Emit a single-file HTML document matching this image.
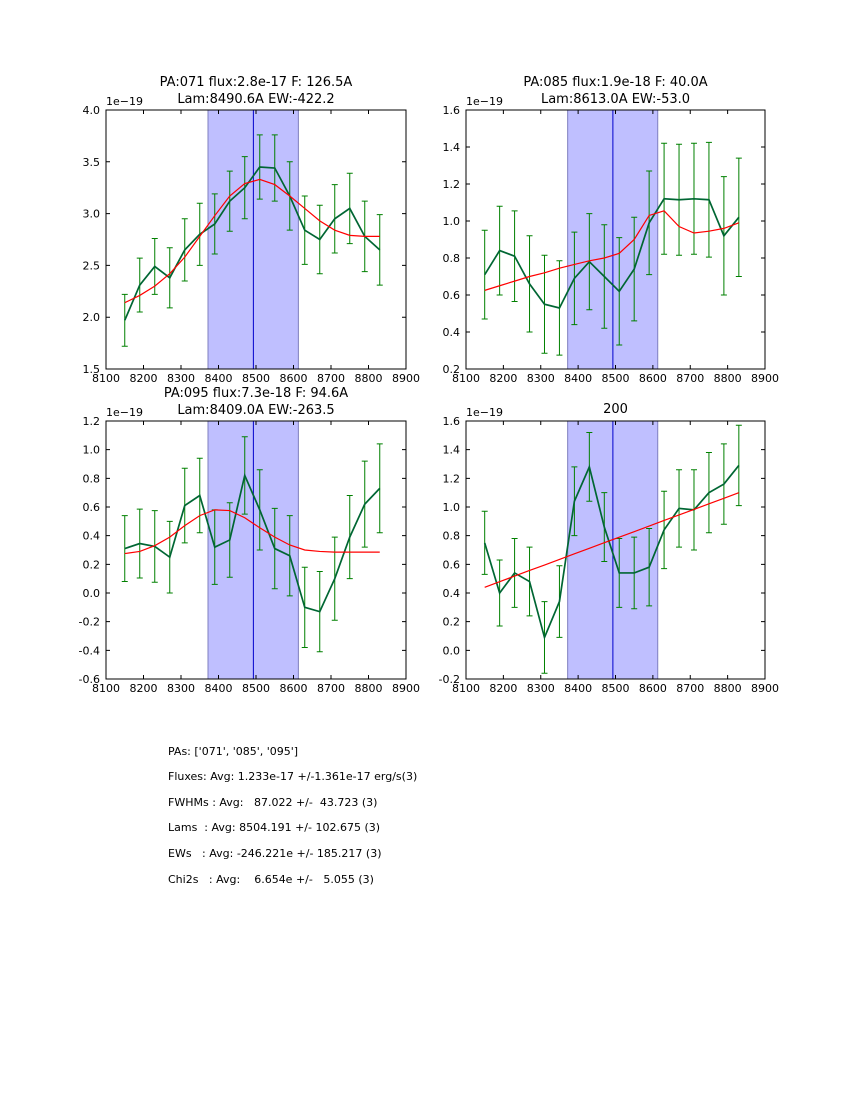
<!DOCTYPE html>
<html><head><meta charset="utf-8"><style>
body{margin:0;background:#fff;font-family:"DejaVu Sans","Liberation Sans",sans-serif}
#c{position:absolute;left:0;top:0;font-family:"DejaVu Sans","Liberation Sans",sans-serif}
.st{position:absolute;left:168px;font-size:11px;white-space:pre;color:#000}
</style></head><body>
<svg id="c" width="850" height="1100"></svg>
<div class="st" style="top:745px">PAs: ['071', '085', '095']</div>
<div class="st" style="top:770px">Fluxes: Avg: 1.233e-17 +/-1.361e-17 erg/s(3)</div>
<div class="st" style="top:796px">FWHMs : Avg:   87.022 +/-  43.723 (3)</div>
<div class="st" style="top:821px">Lams  : Avg: 8504.191 +/- 102.675 (3)</div>
<div class="st" style="top:847px">EWs   : Avg: -246.221e +/- 185.217 (3)</div>
<div class="st" style="top:873px">Chi2s   : Avg:    6.654e +/-   5.055 (3)</div>
<script>
const wavelengths=[8150,8190,8230,8270,8310,8350,8390,8430,8470,8510,8550,8590,8630,8670,8710,8750,8790,8830];
const xTicks=[8100,8200,8300,8400,8500,8600,8700,8800,8900];
const bandRange=[8372,8613];
const lineCenter=8493;
const p1Data=[1.97,2.31,2.49,2.38,2.65,2.80,2.90,3.12,3.25,3.45,3.44,3.17,2.84,2.75,2.95,3.05,2.78,2.65];
const p1Err=[0.25,0.26,0.27,0.29,0.30,0.30,0.29,0.29,0.30,0.31,0.32,0.33,0.33,0.33,0.33,0.34,0.34,0.34];
const p1Fit=[2.14,2.21,2.30,2.42,2.58,2.78,2.98,3.17,3.29,3.33,3.28,3.17,3.05,2.93,2.84,2.79,2.78,2.78];
const p1Ticks=[1.5,2.0,2.5,3.0,3.5,4.0];
const p2Data=[0.71,0.84,0.81,0.66,0.55,0.53,0.69,0.78,0.70,0.62,0.74,0.99,1.12,1.115,1.12,1.115,0.92,1.02];
const p2Err=[0.24,0.24,0.245,0.26,0.265,0.255,0.25,0.26,0.28,0.29,0.28,0.28,0.30,0.30,0.30,0.31,0.32,0.32];
const p2Fit=[0.625,0.65,0.675,0.70,0.72,0.745,0.765,0.785,0.80,0.825,0.90,1.03,1.055,0.97,0.935,0.945,0.96,0.99];
const p2Ticks=[0.2,0.4,0.6,0.8,1.0,1.2,1.4,1.6];
const p3Data=[0.31,0.345,0.325,0.25,0.61,0.68,0.32,0.37,0.82,0.58,0.31,0.26,-0.10,-0.13,0.10,0.39,0.62,0.73];
const p3Err=[0.23,0.24,0.25,0.25,0.26,0.26,0.26,0.26,0.27,0.28,0.28,0.28,0.28,0.28,0.29,0.29,0.30,0.31];
const p3Fit=[0.275,0.29,0.33,0.39,0.47,0.54,0.58,0.575,0.525,0.455,0.39,0.335,0.30,0.29,0.285,0.285,0.285,0.285];
const p3Ticks=[-0.6,-0.4,-0.2,0.0,0.2,0.4,0.6,0.8,1.0,1.2];
const p4Data=[0.75,0.40,0.54,0.48,0.09,0.34,1.04,1.28,0.86,0.54,0.54,0.58,0.84,0.99,0.98,1.10,1.16,1.29];
const p4Err=[0.22,0.23,0.24,0.24,0.25,0.25,0.24,0.24,0.24,0.24,0.25,0.27,0.27,0.27,0.28,0.28,0.28,0.28];
const p4Fit=[0.44,0.479,0.518,0.557,0.595,0.634,0.673,0.712,0.751,0.789,0.828,0.867,0.906,0.945,0.983,1.022,1.061,1.10];
const p4Ticks=[-0.2,0.0,0.2,0.4,0.6,0.8,1.0,1.2,1.4,1.6];
const NS="http://www.w3.org/2000/svg";
const svg=document.getElementById('c');
function mk(tag,attrs,parent){const e=document.createElementNS(NS,tag);for(const k in attrs)e.setAttribute(k,attrs[k]);(parent||svg).appendChild(e);return e;}
function panel(name,L,T,W,H,ticks,data,err,fit,t1,t2){
  const g=mk('g',{});
  
  
  const ymin=ticks[0],ymax=ticks[ticks.length-1];
  const X=v=>L+(v-8100)/800*W, Y=v=>T+H-(v-ymin)/(ymax-ymin)*H;
  const band=mk('rect',{x:X(bandRange[0]),y:T,width:X(bandRange[1])-X(bandRange[0]),height:H,fill:'#bfbfff',stroke:'#7f7fbf','stroke-width':1},g);
  
  
  const vl=mk('line',{x1:X(lineCenter),x2:X(lineCenter),y1:T,y2:T+H,stroke:'#0000cc','stroke-width':1},g);
  
  
  wavelengths.forEach((w,i)=>{
    const x=X(w),a=Y(data[i]-err[i]),b=Y(data[i]+err[i]);
    const eb=mk('path',{d:`M${x},${a}V${b}M${x-3},${a}h6M${x-3},${b}h6`,stroke:'#008000','stroke-width':1,fill:'none'},g);
    
    
  });
  const dl=mk('polyline',{points:wavelengths.map((w,i)=>X(w)+','+Y(data[i])).join(' '),stroke:'#006633','stroke-width':1.7,fill:'none'},g);
  
  
  const fl=mk('polyline',{points:wavelengths.map((w,i)=>X(w)+','+Y(fit[i])).join(' '),stroke:'#ff0000','stroke-width':1.2,fill:'none'},g);
  
  
  mk('rect',{x:L,y:T,width:W,height:H,fill:'none',stroke:'#000','stroke-width':1},g);
  xTicks.forEach(v=>{const x=X(v);
    mk('path',{d:`M${x},${T+H}v-4M${x},${T}v4`,stroke:'#000'},g);
    const t=mk('text',{x:x,y:T+H+13,'text-anchor':'middle','font-size':11},g);t.textContent=v;
    
    });
  ticks.forEach(v=>{const y=Y(v);
    mk('path',{d:`M${L},${y}h4M${L+W},${y}h-4`,stroke:'#000'},g);
    const t=mk('text',{x:L-6,y:y+4,'text-anchor':'end','font-size':11},g);t.textContent=v.toFixed(1);
    
    });
  const ex=mk('text',{x:L,y:T-5,'font-size':11},g);ex.textContent='1e\u221219';
  
  
  const tt=mk('text',{x:L+W/2,y:t2?T-24:T-8,'text-anchor':'middle','font-size':13},g);tt.textContent=t1;
  
  
  if(t2){const t=mk('text',{x:L+W/2,y:T-7,'text-anchor':'middle','font-size':13},g);t.textContent=t2;
    
    }
}
panel('panel-pa071',106,110,300,259,p1Ticks,p1Data,p1Err,p1Fit,'PA:071 flux:2.8e-17 F: 126.5A','Lam:8490.6A EW:-422.2');
panel('panel-pa085',466,110,299,259,p2Ticks,p2Data,p2Err,p2Fit,'PA:085 flux:1.9e-18 F: 40.0A','Lam:8613.0A EW:-53.0');
panel('panel-pa095',106,421,300,258,p3Ticks,p3Data,p3Err,p3Fit,'PA:095 flux:7.3e-18 F: 94.6A','Lam:8409.0A EW:-263.5');
panel('panel-200',466,421,299,258,p4Ticks,p4Data,p4Err,p4Fit,'200',null);
</script>
</body></html>
